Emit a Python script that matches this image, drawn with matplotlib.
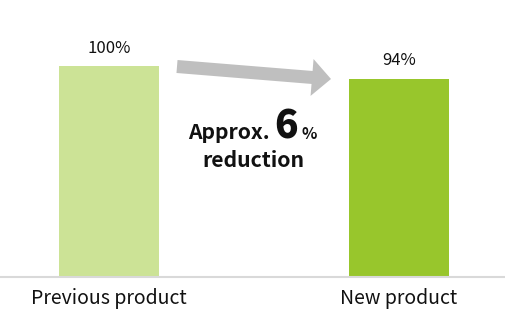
"""
Bar chart comparing previous and new product, with a reduction arrow.
"""

import numpy as np
import matplotlib
matplotlib.use("Agg")
import matplotlib.pyplot as plt
from matplotlib.patches import Polygon

plt.rcParams['font.family'] = ['Noto Sans CJK JP', 'DejaVu Sans']

CATEGORIES = ["Previous product", "New product"]
VALUES = [100, 94]
VALUE_LABELS = ["100%", "94%"]
BAR_COLORS = ["#cce396", "#98c62c"]

W, H = 506, 330


def arrow_vertices(tail, tip, shaft_hw, head_hw, head_len):
    """
    Polygon of a block arrow in pixel space (y up).
    """
    tail = np.array(tail, float)
    tip = np.array(tip, float)
    u = (tip - tail) / np.linalg.norm(tip - tail)
    n = np.array([-u[1], u[0]])
    neck = tip - u * head_len
    pts = [tail + n * shaft_hw, neck + n * shaft_hw, neck + n * head_hw, tip,
           neck - n * head_hw, neck - n * shaft_hw, tail - n * shaft_hw]
    return np.array(pts) / [W, H]


def main():
    fig = plt.figure(figsize=(W / 100, H / 100), dpi=100)
    ax = fig.add_axes([0, 53 / H, 1, 277 / H])

    x = np.arange(len(CATEGORIES))
    ax.bar(x, VALUES, width=100 / 290, color=BAR_COLORS, zorder=2)
    ax.set_xlim(-109 / 290, 1 + 107 / 290)
    ax.set_ylim(0, 100 * 277 / 211)

    for xi, v, lab in zip(x, VALUES, VALUE_LABELS):
        ax.text(xi, v + 4.5, lab, ha='center', va='bottom', fontsize=12, color='#111111')

    for s in ('top', 'left', 'right'):
        ax.spines[s].set_visible(False)
    ax.spines['bottom'].set_color('#d9d9d9')
    ax.spines['bottom'].set_linewidth(1.5)
    ax.set_yticks([])
    ax.set_xticks(x)
    ax.set_xticklabels(CATEGORIES, fontsize=14, color='#111111')
    ax.tick_params(axis='x', length=0, pad=8)

    verts = arrow_vertices((177, H - 66.5), (331, H - 79), 6.5, 18.5, 19)
    fig.patches.append(Polygon(verts, closed=True, transform=fig.transFigure,
                               facecolor='#bfbfbf', edgecolor='none'))

    base = 1 - 139 / H
    fig.text(188 / W, base, "Approx.", fontsize=15.2, fontweight='bold',
             ha='left', va='baseline', color='#111111')
    fig.text(274 / W, base, "6", fontsize=28, fontweight='heavy',
             ha='left', va='baseline', color='#111111')
    fig.text(302 / W, base, "%", fontsize=11.5, fontweight='bold',
             ha='left', va='baseline', color='#111111')
    fig.text(253 / W, 1 - 167 / H, "reduction", fontsize=15.3, fontweight='bold',
             ha='center', va='baseline', color='#111111')

    fig.savefig("out.png", dpi=100)


if __name__ == "__main__":
    main()
